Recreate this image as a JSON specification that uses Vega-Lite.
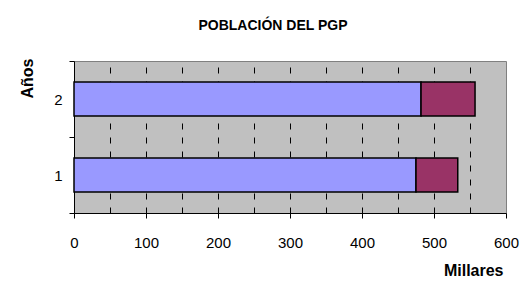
{
  "$schema": "https://vega.github.io/schema/vega-lite/v6.json",
  "width": 432,
  "height": 152,
  "autosize": {"type": "none"},
  "padding": {"left": 74, "top": 61, "right": 17, "bottom": 88},
  "background": "#ffffff",
  "title": {
    "text": "POBLACIÓN DEL PGP",
    "font": "Liberation Sans",
    "fontSize": 14,
    "fontWeight": "bold",
    "color": "#000000",
    "anchor": "middle",
    "baseline": "alphabetic",
    "offset": 10,
    "dx": -17
  },
  "data": {
    "values": [
      {"año": "2", "serie": "Serie 1", "orden": 1, "valor": 482},
      {"año": "2", "serie": "Serie 2", "orden": 2, "valor": 75},
      {"año": "1", "serie": "Serie 1", "orden": 1, "valor": 475},
      {"año": "1", "serie": "Serie 2", "orden": 2, "valor": 58}
    ]
  },
  "mark": {"type": "bar", "stroke": "#000000", "strokeWidth": 1.5, "height": {"band": 0.45}},
  "encoding": {
    "y": {
      "field": "año",
      "type": "ordinal",
      "sort": "descending",
      "scale": {"paddingInner": 0, "paddingOuter": 0},
      "axis": {
        "title": "Años",
        "titleFont": "Liberation Sans",
        "titleFontSize": 16,
        "titleFontWeight": "bold",
        "titleColor": "#000000",
        "titleAngle": -90,
        "titleAlign": "right",
        "titleBaseline": "alphabetic",
        "titleX": -42,
        "titleY": -3,
        "labelFont": "Liberation Sans",
        "labelFontSize": 15,
        "labelColor": "#000000",
        "labelAngle": 0,
        "labelPadding": 7,
        "tickBand": "extent",
        "tickSize": 5,
        "tickColor": "#000000",
        "domainColor": "#000000",
        "domainWidth": 1,
        "grid": false
      }
    },
    "x": {
      "field": "valor",
      "type": "quantitative",
      "stack": "zero",
      "scale": {"domain": [0, 600], "nice": false},
      "axis": {
        "title": "Millares",
        "titleFont": "Liberation Sans",
        "titleFontSize": 16,
        "titleFontWeight": "bold",
        "titleColor": "#000000",
        "titleAlign": "right",
        "titleBaseline": "alphabetic",
        "titleX": 429,
        "titleY": 62,
        "values": [0, 50, 100, 150, 200, 250, 300, 350, 400, 450, 500, 550, 600],
        "labelExpr": "datum.value % 100 === 0 ? datum.label : ''",
        "labelFont": "Liberation Sans",
        "labelFontSize": 15,
        "labelColor": "#000000",
        "labelPadding": 17,
        "labelFlush": false,
        "tickSize": 5,
        "tickColor": "#000000",
        "tickOpacity": {"condition": {"test": "datum.value % 100 !== 0", "value": 0}, "value": 1},
        "domainColor": "#000000",
        "grid": true,
        "gridColor": "#000000",
        "gridDash": [6, 8],
        "gridWidth": 1,
        "gridOpacity": {"condition": {"test": "datum.value === 0 || datum.value === 600", "value": 0}, "value": 1}
      }
    },
    "color": {
      "field": "serie",
      "type": "nominal",
      "scale": {"domain": ["Serie 1", "Serie 2"], "range": ["#9999FF", "#993366"]},
      "legend": null
    },
    "order": {"field": "orden", "type": "quantitative"}
  },
  "config": {
    "view": {"fill": "#C0C0C0", "stroke": "#808080", "strokeWidth": 1}
  }
}
